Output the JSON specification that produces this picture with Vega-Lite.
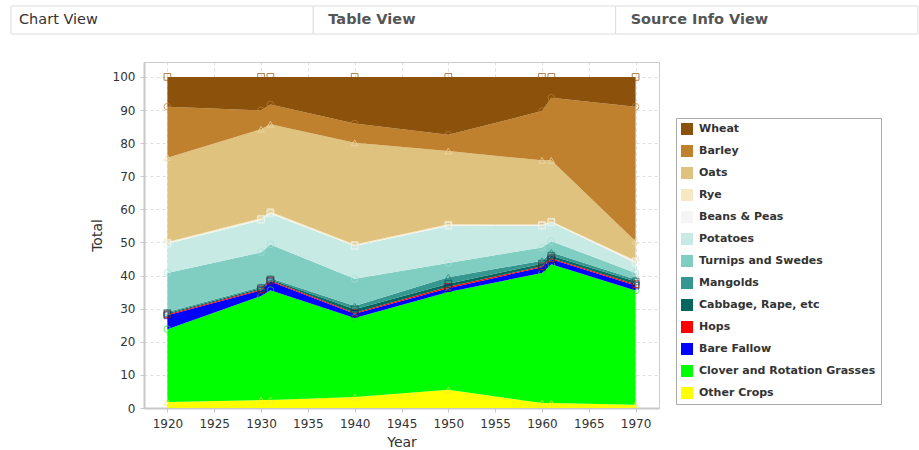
{
  "$schema": "https://vega.github.io/schema/vega-lite/v6.json",
  "background": "white",
  "padding": {"left": 10, "top": 5, "right": 2, "bottom": 0},
  "bounds": "flush",
  "spacing": 28,
  "config": {
    "font": "DejaVu Sans",
    "view": {"stroke": "#cccccc"},
    "axis": {
      "labelFont": "DejaVu Sans", "labelFontSize": 12, "labelColor": "#333333",
      "titleFont": "DejaVu Sans", "titleFontSize": 14, "titleFontWeight": "normal", "titleColor": "#333333",
      "domainColor": "#c8c8c8", "domainWidth": 2, "tickColor": "#c8c8c8", "tickSize": 4,
      "gridColor": "#dddddd", "gridDash": [3, 3]
    }
  },
  "vconcat": [
    {
      "width": 907,
      "height": 28,
      "view": {"stroke": null},
      "data": {"values": [
        {"View": "Chart View", "Link": "no"},
        {"View": "Table View", "Link": "yes"},
        {"View": "Source Info View", "Link": "yes"}
      ]},
      "encoding": {
        "x": {"field": "View", "type": "nominal", "sort": null, "scale": {"paddingInner": 0, "paddingOuter": 0}, "axis": null}
      },
      "layer": [
        {"mark": {"type": "rect", "fill": "white", "stroke": "#dddddd", "strokeWidth": 1, "xOffset": -133}, "encoding": {}},
        {"transform": [{"filter": "datum.Link == 'no'"}],
         "mark": {"type": "text", "align": "left", "baseline": "middle", "xOffset": -125, "fontSize": 14.5, "color": "#333333"},
         "encoding": {"x": {"field": "View", "type": "nominal", "sort": null, "bandPosition": 0}, "text": {"field": "View"}}},
        {"transform": [{"filter": "datum.Link == 'yes'"}],
         "mark": {"type": "text", "align": "left", "baseline": "middle", "xOffset": -118, "fontSize": 14.5, "fontWeight": "bold", "color": "#555555"},
         "encoding": {"x": {"field": "View", "type": "nominal", "sort": null, "bandPosition": 0}, "text": {"field": "View"}}}
      ]
    },
    {
      "width": 515,
      "height": 346,
      "data": {"values": [
        {"Year": 1920, "Crop": "Other Crops", "Total": 1.8},
        {"Year": 1920, "Crop": "Clover and Rotation Grasses", "Total": 22.0},
        {"Year": 1920, "Crop": "Bare Fallow", "Total": 4.2},
        {"Year": 1920, "Crop": "Hops", "Total": 0.3},
        {"Year": 1920, "Crop": "Cabbage, Rape, etc", "Total": 0.3},
        {"Year": 1920, "Crop": "Mangolds", "Total": 0.4},
        {"Year": 1920, "Crop": "Turnips and Swedes", "Total": 11.8},
        {"Year": 1920, "Crop": "Potatoes", "Total": 8.8},
        {"Year": 1920, "Crop": "Beans & Peas", "Total": 0.2},
        {"Year": 1920, "Crop": "Rye", "Total": 0.3},
        {"Year": 1920, "Crop": "Oats", "Total": 25.5},
        {"Year": 1920, "Crop": "Barley", "Total": 15.4},
        {"Year": 1920, "Crop": "Wheat", "Total": 9.0},
        {"Year": 1930, "Crop": "Other Crops", "Total": 2.4},
        {"Year": 1930, "Crop": "Clover and Rotation Grasses", "Total": 31.4},
        {"Year": 1930, "Crop": "Bare Fallow", "Total": 1.7},
        {"Year": 1930, "Crop": "Hops", "Total": 0.3},
        {"Year": 1930, "Crop": "Cabbage, Rape, etc", "Total": 0.4},
        {"Year": 1930, "Crop": "Mangolds", "Total": 0.4},
        {"Year": 1930, "Crop": "Turnips and Swedes", "Total": 10.4},
        {"Year": 1930, "Crop": "Potatoes", "Total": 9.7},
        {"Year": 1930, "Crop": "Beans & Peas", "Total": 0.3},
        {"Year": 1930, "Crop": "Rye", "Total": 0.3},
        {"Year": 1930, "Crop": "Oats", "Total": 26.9},
        {"Year": 1930, "Crop": "Barley", "Total": 5.7},
        {"Year": 1930, "Crop": "Wheat", "Total": 10.1},
        {"Year": 1931, "Crop": "Other Crops", "Total": 2.4},
        {"Year": 1931, "Crop": "Clover and Rotation Grasses", "Total": 33.2},
        {"Year": 1931, "Crop": "Bare Fallow", "Total": 2.6},
        {"Year": 1931, "Crop": "Hops", "Total": 0.3},
        {"Year": 1931, "Crop": "Cabbage, Rape, etc", "Total": 0.3},
        {"Year": 1931, "Crop": "Mangolds", "Total": 0.4},
        {"Year": 1931, "Crop": "Turnips and Swedes", "Total": 10.2},
        {"Year": 1931, "Crop": "Potatoes", "Total": 9.3},
        {"Year": 1931, "Crop": "Beans & Peas", "Total": 0.3},
        {"Year": 1931, "Crop": "Rye", "Total": 0.3},
        {"Year": 1931, "Crop": "Oats", "Total": 26.4},
        {"Year": 1931, "Crop": "Barley", "Total": 6.0},
        {"Year": 1931, "Crop": "Wheat", "Total": 8.3},
        {"Year": 1940, "Crop": "Other Crops", "Total": 3.3},
        {"Year": 1940, "Crop": "Clover and Rotation Grasses", "Total": 23.9},
        {"Year": 1940, "Crop": "Bare Fallow", "Total": 1.3},
        {"Year": 1940, "Crop": "Hops", "Total": 0.3},
        {"Year": 1940, "Crop": "Cabbage, Rape, etc", "Total": 1.0},
        {"Year": 1940, "Crop": "Mangolds", "Total": 1.0},
        {"Year": 1940, "Crop": "Turnips and Swedes", "Total": 8.2},
        {"Year": 1940, "Crop": "Potatoes", "Total": 9.9},
        {"Year": 1940, "Crop": "Beans & Peas", "Total": 0.2},
        {"Year": 1940, "Crop": "Rye", "Total": 0.3},
        {"Year": 1940, "Crop": "Oats", "Total": 30.7},
        {"Year": 1940, "Crop": "Barley", "Total": 5.8},
        {"Year": 1940, "Crop": "Wheat", "Total": 14.1},
        {"Year": 1950, "Crop": "Other Crops", "Total": 5.5},
        {"Year": 1950, "Crop": "Clover and Rotation Grasses", "Total": 29.5},
        {"Year": 1950, "Crop": "Bare Fallow", "Total": 1.2},
        {"Year": 1950, "Crop": "Hops", "Total": 0.4},
        {"Year": 1950, "Crop": "Cabbage, Rape, etc", "Total": 0.9},
        {"Year": 1950, "Crop": "Mangolds", "Total": 2.0},
        {"Year": 1950, "Crop": "Turnips and Swedes", "Total": 4.3},
        {"Year": 1950, "Crop": "Potatoes", "Total": 11.2},
        {"Year": 1950, "Crop": "Beans & Peas", "Total": 0.2},
        {"Year": 1950, "Crop": "Rye", "Total": 0.3},
        {"Year": 1950, "Crop": "Oats", "Total": 22.1},
        {"Year": 1950, "Crop": "Barley", "Total": 4.9},
        {"Year": 1950, "Crop": "Wheat", "Total": 17.5},
        {"Year": 1960, "Crop": "Other Crops", "Total": 1.5},
        {"Year": 1960, "Crop": "Clover and Rotation Grasses", "Total": 39.3},
        {"Year": 1960, "Crop": "Bare Fallow", "Total": 1.7},
        {"Year": 1960, "Crop": "Hops", "Total": 0.3},
        {"Year": 1960, "Crop": "Cabbage, Rape, etc", "Total": 0.8},
        {"Year": 1960, "Crop": "Mangolds", "Total": 0.9},
        {"Year": 1960, "Crop": "Turnips and Swedes", "Total": 4.0},
        {"Year": 1960, "Crop": "Potatoes", "Total": 6.5},
        {"Year": 1960, "Crop": "Beans & Peas", "Total": 0.2},
        {"Year": 1960, "Crop": "Rye", "Total": 0.2},
        {"Year": 1960, "Crop": "Oats", "Total": 19.4},
        {"Year": 1960, "Crop": "Barley", "Total": 14.9},
        {"Year": 1960, "Crop": "Wheat", "Total": 10.3},
        {"Year": 1961, "Crop": "Other Crops", "Total": 1.5},
        {"Year": 1961, "Crop": "Clover and Rotation Grasses", "Total": 41.9},
        {"Year": 1961, "Crop": "Bare Fallow", "Total": 1.5},
        {"Year": 1961, "Crop": "Hops", "Total": 0.3},
        {"Year": 1961, "Crop": "Cabbage, Rape, etc", "Total": 0.8},
        {"Year": 1961, "Crop": "Mangolds", "Total": 1.0},
        {"Year": 1961, "Crop": "Turnips and Swedes", "Total": 3.4},
        {"Year": 1961, "Crop": "Potatoes", "Total": 5.6},
        {"Year": 1961, "Crop": "Beans & Peas", "Total": 0.2},
        {"Year": 1961, "Crop": "Rye", "Total": 0.2},
        {"Year": 1961, "Crop": "Oats", "Total": 18.4},
        {"Year": 1961, "Crop": "Barley", "Total": 18.9},
        {"Year": 1961, "Crop": "Wheat", "Total": 6.3},
        {"Year": 1970, "Crop": "Other Crops", "Total": 1.0},
        {"Year": 1970, "Crop": "Clover and Rotation Grasses", "Total": 34.5},
        {"Year": 1970, "Crop": "Bare Fallow", "Total": 1.5},
        {"Year": 1970, "Crop": "Hops", "Total": 0.4},
        {"Year": 1970, "Crop": "Cabbage, Rape, etc", "Total": 0.8},
        {"Year": 1970, "Crop": "Mangolds", "Total": 0.6},
        {"Year": 1970, "Crop": "Turnips and Swedes", "Total": 2.0},
        {"Year": 1970, "Crop": "Potatoes", "Total": 3.0},
        {"Year": 1970, "Crop": "Beans & Peas", "Total": 0.4},
        {"Year": 1970, "Crop": "Rye", "Total": 0.3},
        {"Year": 1970, "Crop": "Oats", "Total": 5.9},
        {"Year": 1970, "Crop": "Barley", "Total": 40.6},
        {"Year": 1970, "Crop": "Wheat", "Total": 9.0}
      ]},
      "transform": [
        {"calculate": "indexof(['Other Crops','Clover and Rotation Grasses','Bare Fallow','Hops','Cabbage, Rape, etc','Mangolds','Turnips and Swedes','Potatoes','Beans & Peas','Rye','Oats','Barley','Wheat'], datum.Crop)", "as": "rank"}
      ],
      "encoding": {
        "x": {"field": "Year", "type": "quantitative",
              "scale": {"domain": [1917.5, 1972.5], "nice": false, "zero": false},
              "axis": {"values": [1920, 1925, 1930, 1935, 1940, 1945, 1950, 1955, 1960, 1965, 1970], "format": "d", "labelPadding": 6, "titlePadding": 6, "title": "Year"}},
        "y": {"field": "Total", "type": "quantitative", "stack": "zero",
              "scale": {"domain": [0, 104.5], "nice": false},
              "axis": {"values": [0, 10, 20, 30, 40, 50, 60, 70, 80, 90, 100], "labelPadding": 5, "titlePadding": 8, "title": "Total"}},
        "order": {"field": "rank", "type": "quantitative"}
      },
      "layer": [
        {
          "mark": {"type": "area", "interpolate": "linear"},
          "encoding": {
            "color": {"field": "Crop", "type": "nominal",
              "scale": {
                "domain": ["Wheat", "Barley", "Oats", "Rye", "Beans & Peas", "Potatoes", "Turnips and Swedes", "Mangolds", "Cabbage, Rape, etc", "Hops", "Bare Fallow", "Clover and Rotation Grasses", "Other Crops"],
                "range": ["#8c510a", "#bf812d", "#dfc27d", "#f6e8c3", "#f5f5f5", "#c7eae5", "#80cdc1", "#35978f", "#01665e", "#ff0000", "#0000ff", "#00ff00", "#ffff00"]
              },
              "legend": {"title": null, "orient": "none", "legendX": 532, "legendY": 112,
                "strokeColor": "#aaaaaa", "fillColor": "white", "padding": 5,
                "symbolType": "square", "symbolSize": 144, "symbolStrokeWidth": 0,
                "rowPadding": 10, "labelOffset": 6,
                "labelFont": "DejaVu Sans", "labelFontSize": 11, "labelFontWeight": "bold", "labelColor": "#333333", "labelLimit": 300,
                "encode": {"symbols": {"update": {"shape": {"value": "square"}}}}}
            }
          }
        },
        {
          "mark": {"type": "point", "filled": false, "size": 45, "strokeWidth": 1},
          "encoding": {
            "y": {"field": "Total", "type": "quantitative", "stack": "zero"},
            "stroke": {"field": "rank", "type": "ordinal",
              "scale": {
                "domain": [0, 1, 2, 3, 4, 5, 6, 7, 8, 9, 10, 11, 12],
                "range": ["#eeee44", "#22dd22", "#0000aa", "#cc0000", "#014a44", "#2a8078", "#a8e0d8", "#e0f5f2", "#f5f5f5", "#f6e8c3", "#f0dcb0", "#bf812d", "#8c510a"]
              },
              "legend": null},
            "shape": {"field": "rank", "type": "ordinal",
              "scale": {
                "domain": [0, 1, 2, 3, 4, 5, 6, 7, 8, 9, 10, 11, 12],
                "range": ["triangle-up", "circle", "square", "square", "square", "triangle-up", "circle", "square", "square", "triangle-down", "triangle-up", "circle", "square"]
              },
              "legend": null}
          }
        }
      ]
    }
  ]
}
